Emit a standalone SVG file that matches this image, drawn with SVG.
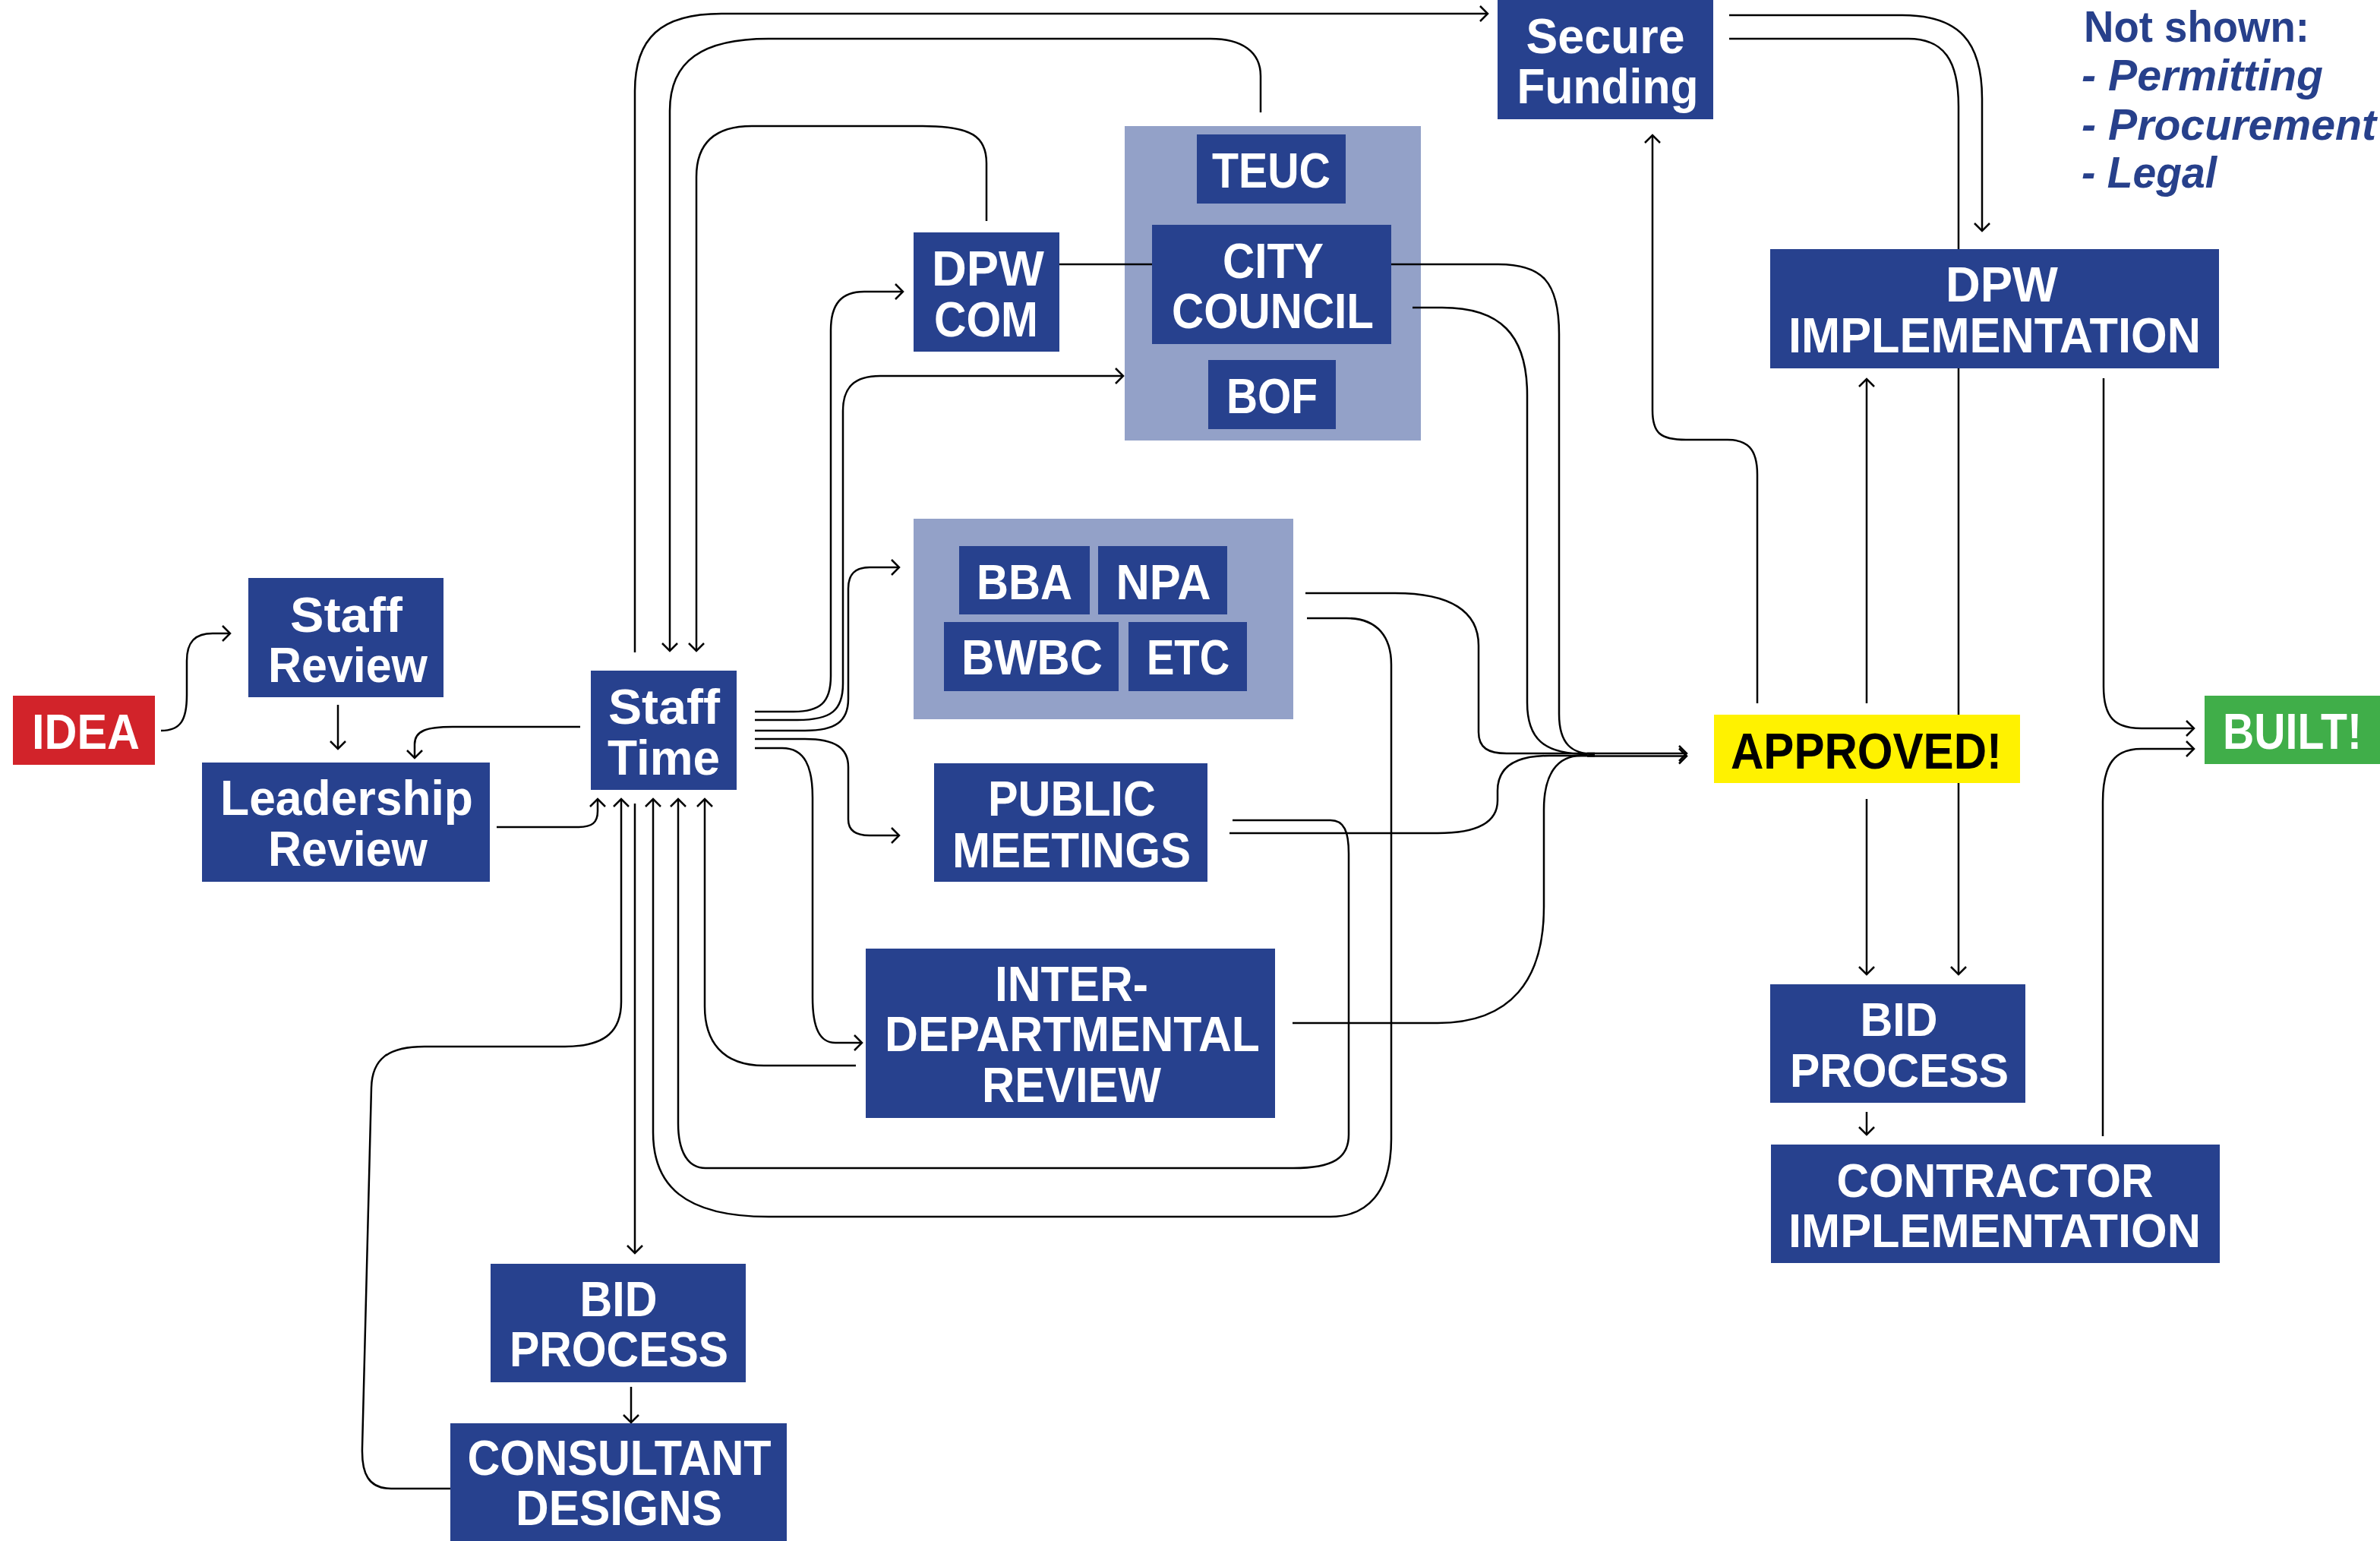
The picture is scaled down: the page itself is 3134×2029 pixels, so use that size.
<svg xmlns="http://www.w3.org/2000/svg" width="3134" height="2029" viewBox="0 0 3134 2029">
<style>
.bg{fill:#ffffff}
.n{fill:#27418e}
.grp{fill:#93a1c8}
.t{font-family:"Liberation Sans",Arial,sans-serif;font-weight:bold;fill:#ffffff;text-anchor:middle;font-size:65px}
.tw{font-size:63px}
.tb{fill:#000000;font-size:67px}
.leg{font-family:"Liberation Sans",Arial,sans-serif;font-weight:bold;fill:#27408b;font-size:58px}
.c path{fill:none;stroke:#000000;stroke-width:2.5}
</style>
<defs>
<marker id="ah" markerUnits="userSpaceOnUse" viewBox="-12 -12 14 24" refX="0" refY="0" markerWidth="14" markerHeight="24" orient="auto">
<path d="M-10,-10 L0,0 L-10,10" fill="none" stroke="#000000" stroke-width="2.5"/>
</marker>
</defs>
<rect class="bg" x="0" y="0" width="3134" height="2029"/>

<g id="council-group"><rect class="grp" x="1481" y="166" width="390" height="414"/></g>
<g id="bba-group"><rect class="grp" x="1203" y="683" width="500" height="264"/></g>

<g id="connectors" class="c">
<path marker-end="url(#ah)" d="M212,962 C238,962 246,948 246,915 L246,870 C246,846 256,834 280,834 L303,834"/>
<path marker-end="url(#ah)" d="M445,928 L445,986"/>
<path marker-end="url(#ah)" d="M764,957 L596,957 C562,957 546,962 546,980 L546,998"/>
<path marker-end="url(#ah)" d="M654,1089 L761,1089 C780,1089 787,1083 787,1068 L787,1052"/>
<path marker-end="url(#ah)" d="M836,859 L836,120 C836,50 870,18 950,18 L1959,18"/>
<path marker-end="url(#ah)" d="M1660,148 L1660,100 C1660,68 1635,51 1594,51 L1012,51 C925,51 882,80 882,146 L882,857"/>
<path marker-end="url(#ah)" d="M1299,291 L1299,215 C1299,180 1280,166 1215,166 L990,166 C940,166 917,190 917,233 L917,857"/>
<path d="M1395,348 L1517,348"/>
<path d="M1832,348 L1973,348 C2030,348 2053,370 2053,440 L2053,940 C2053,980 2070,993 2100,993"/>
<path d="M1860,405 L1899,405 C1975,405 2011,440 2011,520 L2011,925 C2011,972 2032,993 2090,993"/>
<path marker-end="url(#ah)" d="M994,937 L1045,937 C1080,937 1094,925 1094,890 L1094,435 C1094,400 1108,384 1138,384 L1189,384"/>
<path marker-end="url(#ah)" d="M994,948 L1050,948 C1095,948 1110,935 1110,900 L1110,541 C1110,510 1125,495 1159,495 L1479,495"/>
<path marker-end="url(#ah)" d="M994,962 L1060,962 C1100,962 1117,950 1117,920 L1117,775 C1117,757 1125,747 1145,747 L1184,747"/>
<path marker-end="url(#ah)" d="M994,973 L1060,973 C1100,973 1117,985 1117,1010 L1117,1079 C1117,1092 1125,1100 1145,1100 L1184,1100"/>
<path marker-end="url(#ah)" d="M994,985 L1030,985 C1060,985 1070,1010 1070,1050 L1070,1313 C1070,1355 1080,1373 1100,1373 L1135,1373"/>
<path marker-end="url(#ah)" d="M593,1960 L515,1960 C485,1960 476,1940 477,1906 L489,1432 C490,1395 510,1378 559,1378 L744,1378 C800,1378 818,1355 818,1319 L818,1052"/>
<path marker-end="url(#ah)" d="M836,1058 L836,1650"/>
<path marker-end="url(#ah)" d="M1721,814 L1773,814 C1815,814 1832,840 1832,875 L1832,1500 C1832,1570 1800,1602 1752,1602 L1012,1602 C900,1602 860,1560 860,1491 L860,1052"/>
<path marker-end="url(#ah)" d="M1623,1080 L1752,1080 C1770,1080 1776,1095 1776,1124 L1776,1494 C1776,1525 1755,1538 1703,1538 L929,1538 C905,1538 893,1515 893,1479 L893,1052"/>
<path marker-end="url(#ah)" d="M1127,1403 L1006,1403 C950,1403 928,1370 928,1325 L928,1052"/>
<path d="M1719,781 L1837,781 C1910,781 1947,805 1947,850 L1947,964 C1947,985 1960,992 1984,992 L2100,992"/>
<path d="M1619,1097 L1893,1097 C1950,1097 1972,1080 1972,1054 L1972,1041 C1972,1010 1995,995 2040,995 L2100,995"/>
<path d="M1702,1347 L1893,1347 C1990,1347 2033,1290 2033,1194 L2033,1066 C2033,1020 2050,995 2082,995 L2100,995"/>
<path marker-end="url(#ah)" d="M2090,992 L2221,992"/>
<path marker-end="url(#ah)" d="M2090,995.5 L2221,995.5"/>
<path marker-end="url(#ah)" d="M2314,926 L2314,625 C2314,590 2300,579 2275,579 L2220,579 C2186,579 2176,570 2176,540 L2176,178"/>
<path marker-end="url(#ah)" d="M2458,926 L2458,499"/>
<path marker-end="url(#ah)" d="M2277,20 L2505,20 C2580,20 2610,55 2610,130 L2610,304"/>
<path marker-end="url(#ah)" d="M2277,51 L2513,51 C2560,51 2579,80 2579,140 L2579,1283"/>
<path marker-end="url(#ah)" d="M2458,1052 L2458,1283"/>
<path marker-end="url(#ah)" d="M2458,1464 L2458,1494"/>
<path marker-end="url(#ah)" d="M2770,498 L2770,904 C2770,945 2785,959 2820,959 L2889,959"/>
<path marker-end="url(#ah)" d="M2769,1496 L2769,1056 C2769,1005 2785,986 2820,986 L2889,986"/>
<path marker-end="url(#ah)" d="M831,1826 L831,1873"/>
</g>

<g id="idea"><rect x="17" y="916" width="187" height="91" fill="#d2232a"/><text class="t" x="113" y="986" textLength="142" lengthAdjust="spacingAndGlyphs">IDEA</text></g>
<g id="staff-review"><rect class="n" x="327" y="761" width="257" height="157"/><text class="t" x="456" y="832" textLength="148" lengthAdjust="spacingAndGlyphs">Staff</text><text class="t" x="458" y="898" textLength="210" lengthAdjust="spacingAndGlyphs">Review</text></g>
<g id="leadership-review"><rect class="n" x="266" y="1004" width="379" height="157"/><text class="t" x="456.5" y="1073" textLength="333" lengthAdjust="spacingAndGlyphs">Leadership</text><text class="t" x="458" y="1140" textLength="210" lengthAdjust="spacingAndGlyphs">Review</text></g>
<g id="staff-time"><rect class="n" x="778" y="883" width="192" height="157"/><text class="t" x="874.5" y="953" textLength="147" lengthAdjust="spacingAndGlyphs">Staff</text><text class="t" x="874" y="1020" textLength="148" lengthAdjust="spacingAndGlyphs">Time</text></g>
<g id="dpw-com"><rect class="n" x="1203" y="306" width="192" height="157"/><text class="t" x="1301" y="376" textLength="148" lengthAdjust="spacingAndGlyphs">DPW</text><text class="t" x="1298.5" y="443" textLength="137" lengthAdjust="spacingAndGlyphs">COM</text></g>
<g id="teuc"><rect class="n" x="1576" y="177" width="196" height="91"/><text class="t" x="1674" y="247" textLength="156" lengthAdjust="spacingAndGlyphs">TEUC</text></g>
<g id="city-council"><rect class="n" x="1517" y="296" width="315" height="157"/><text class="t" x="1676.5" y="366" textLength="133" lengthAdjust="spacingAndGlyphs">CITY</text><text class="t" x="1676" y="432" textLength="266" lengthAdjust="spacingAndGlyphs">COUNCIL</text></g>
<g id="bof"><rect class="n" x="1591" y="474" width="168" height="91"/><text class="t" x="1675" y="544" textLength="120" lengthAdjust="spacingAndGlyphs">BOF</text></g>
<g id="secure-funding"><rect class="n" x="1972" y="0" width="284" height="157"/><text class="t" x="2114" y="70" textLength="209" lengthAdjust="spacingAndGlyphs">Secure</text><text class="t" x="2117" y="136" textLength="239" lengthAdjust="spacingAndGlyphs">Funding</text></g>
<g id="dpw-implementation"><rect class="n" x="2331" y="328" width="591" height="157"/><text class="t" x="2636" y="397" textLength="148" lengthAdjust="spacingAndGlyphs">DPW</text><text class="t" x="2626.5" y="464" textLength="543" lengthAdjust="spacingAndGlyphs">IMPLEMENTATION</text></g>
<g id="bba"><rect class="n" x="1263" y="719" width="172" height="90"/><text class="t" x="1349" y="789" textLength="126" lengthAdjust="spacingAndGlyphs">BBA</text></g>
<g id="npa"><rect class="n" x="1446" y="719" width="170" height="90"/><text class="t" x="1532" y="789" textLength="125" lengthAdjust="spacingAndGlyphs">NPA</text></g>
<g id="bwbc"><rect class="n" x="1243" y="819" width="230" height="91"/><text class="t" x="1359" y="888" textLength="186" lengthAdjust="spacingAndGlyphs">BWBC</text></g>
<g id="etc"><rect class="n" x="1486" y="819" width="156" height="91"/><text class="t" x="1564.5" y="888" textLength="109" lengthAdjust="spacingAndGlyphs">ETC</text></g>
<g id="public-meetings"><rect class="n" x="1230" y="1005" width="360" height="156"/><text class="t" x="1411.5" y="1074" textLength="221" lengthAdjust="spacingAndGlyphs">PUBLIC</text><text class="t" x="1411" y="1142" textLength="314" lengthAdjust="spacingAndGlyphs">MEETINGS</text></g>
<g id="inter-departmental-review"><rect class="n" x="1140" y="1249" width="539" height="223"/><text class="t" x="1411" y="1318" textLength="202" lengthAdjust="spacingAndGlyphs">INTER-</text><text class="t" x="1412" y="1384" textLength="494" lengthAdjust="spacingAndGlyphs">DEPARTMENTAL</text><text class="t" x="1411" y="1451" textLength="236" lengthAdjust="spacingAndGlyphs">REVIEW</text></g>
<g id="approved"><rect x="2257" y="941" width="403" height="90" fill="#fff200"/><text class="t tb" x="2457.5" y="1012" textLength="357" lengthAdjust="spacingAndGlyphs">APPROVED!</text></g>
<g id="built"><rect x="2903" y="916" width="231" height="90" fill="#40ae49"/><text class="t" x="3018.5" y="986" textLength="183" lengthAdjust="spacingAndGlyphs" style="font-size:67px">BUILT!</text></g>
<g id="bid-process-right"><rect class="n" x="2331" y="1296" width="336" height="156"/><text class="t tw" x="2500.5" y="1364" textLength="102" lengthAdjust="spacingAndGlyphs">BID</text><text class="t tw" x="2501" y="1431" textLength="288" lengthAdjust="spacingAndGlyphs">PROCESS</text></g>
<g id="contractor-implementation"><rect class="n" x="2332" y="1507" width="591" height="156"/><text class="t tw" x="2627" y="1576" textLength="417" lengthAdjust="spacingAndGlyphs">CONTRACTOR</text><text class="t tw" x="2626.5" y="1642" textLength="543" lengthAdjust="spacingAndGlyphs">IMPLEMENTATION</text></g>
<g id="bid-process-left"><rect class="n" x="646" y="1664" width="336" height="156"/><text class="t" x="814.5" y="1733" textLength="102" lengthAdjust="spacingAndGlyphs">BID</text><text class="t" x="815" y="1799" textLength="288" lengthAdjust="spacingAndGlyphs">PROCESS</text></g>
<g id="consultant-designs"><rect class="n" x="593" y="1874" width="443" height="155"/><text class="t" x="815.5" y="1942" textLength="400" lengthAdjust="spacingAndGlyphs">CONSULTANT</text><text class="t" x="815" y="2008" textLength="272" lengthAdjust="spacingAndGlyphs">DESIGNS</text></g>
<g id="legend">
<text class="leg" x="2744" y="55" textLength="297" lengthAdjust="spacingAndGlyphs">Not shown:</text>
<text class="leg" x="2741" y="119" font-style="italic" textLength="318" lengthAdjust="spacingAndGlyphs">- Permitting</text>
<text class="leg" x="2741" y="184" font-style="italic" textLength="388" lengthAdjust="spacingAndGlyphs">- Procurement</text>
<text class="leg" x="2741" y="247" font-style="italic" textLength="178" lengthAdjust="spacingAndGlyphs">- Legal</text>
</g>
</svg>
